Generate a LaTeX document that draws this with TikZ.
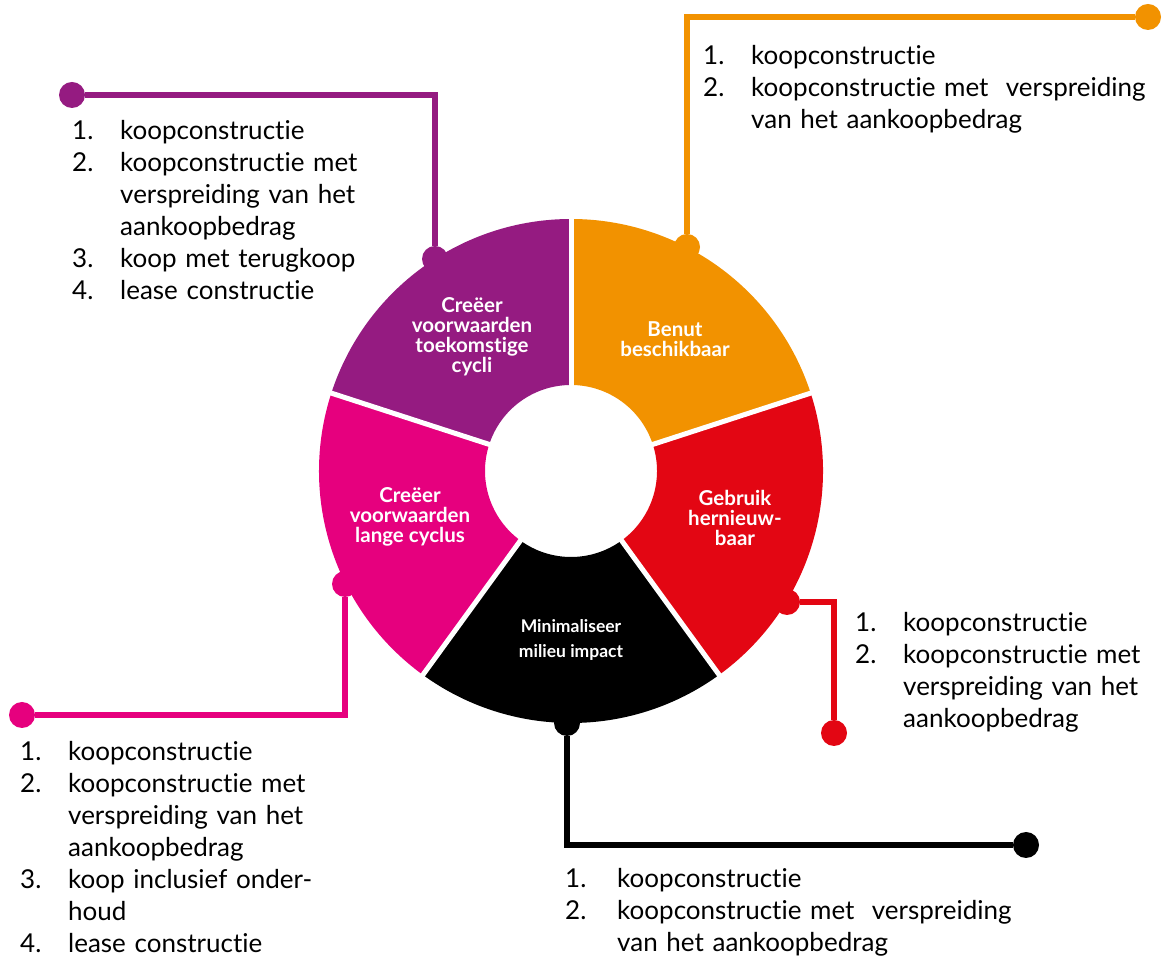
\documentclass[tikz,border=0pt]{standalone}
\usepackage{fontspec}
\setmainfont{Lato}[Ligatures=NoCommon]
\definecolor{cpurple}{RGB}{149,27,129}
\definecolor{corange}{RGB}{242,146,0}
\definecolor{cred}{RGB}{227,6,19}
\definecolor{cmag}{RGB}{230,0,126}
\newcommand\numlab[1]{\makebox[48pt][l]{#1}}
\newcommand\contind{\hspace*{48pt}}
\begin{document}
\begin{tikzpicture}[x=1pt,y=1pt,
  dotnode/.style={circle, minimum size=26pt, inner sep=0pt},
  conn/.style={line width=6.5pt},
  listtext/.style={font=\fontsize{26}{32}\selectfont, text width=700pt, align=left, inner sep=0pt, anchor=base west},
  seglabel/.style={text=white, font=\bfseries\fontsize{20.5}{20}\selectfont, align=center, inner sep=0pt}]
\useasboundingbox (0,0) rectangle (1166,960);
% ring segments
\foreach \a/\c in {18/corange, 90/cpurple, 162/cmag, 234/black, 306/cred}
  \fill[\c] (571,489) ++(\a:252) arc[start angle=\a, delta angle=72, radius=252]
     -- ++({\a+252}:166) arc[start angle={\a+72}, delta angle=-72, radius=86] -- cycle;
\foreach \a in {18,90,162,234,306}
  \draw[white, line width=5pt] (571,489) ++(\a:80) -- ++(\a:180);
% labels
\node[seglabel] (lpurple) at (472,623) {Creëer\\voorwaarden\\toekomstige\\cycli};
\node[seglabel] (lorange) at (675,621) {Benut\\beschikbaar};
\node[seglabel] (lred) at (735,442) {Gebruik\\hernieuw-\\baar};
\node[seglabel] (lmag) at (410,443) {Creëer\\voorwaarden\\lange cyclus};
\node[seglabel, font=\bfseries\fontsize{17.5}{25}\selectfont] (lblack) at (571,320) {Minimaliseer\\milieu impact};
% dots
\node[dotnode, fill=cpurple] (pa) at (435,701) {};
\node[dotnode, fill=cpurple] (pb) at (72,865) {};
\node[dotnode, fill=corange] (oa) at (687,713) {};
\node[dotnode, fill=corange] (ob) at (1148,943) {};
\node[dotnode, fill=cred] (ra) at (787,358) {};
\node[dotnode, fill=cred] (rb) at (834,227) {};
\node[dotnode, fill=black] (ka) at (567,237) {};
\node[dotnode, fill=black] (kb) at (1026,115) {};
\node[dotnode, fill=cmag] (ma) at (345,376) {};
\node[dotnode, fill=cmag] (mb) at (22,245) {};
% connectors
\draw[conn, cpurple] (pa) |- (pb);
\draw[conn, corange] (oa) |- (ob);
\draw[conn, cred] (ra) -| (rb);
\draw[conn, black] (ka) |- (kb);
\draw[conn, cmag] (ma) |- (mb);
% lists
\node[listtext] (plist) at (72,820) {\numlab{1.}koopconstructie\\
\numlab{2.}koopconstructie met\\
\contind verspreiding van het\\
\contind aankoopbedrag\\
\numlab{3.}koop met terugkoop\\
\numlab{4.}lease constructie};
\node[listtext] (olist) at (703,895) {\numlab{1.}koopconstructie\\
\numlab{2.}koopconstructie met\ \ verspreiding\\
\contind van het aankoopbedrag};
\node[listtext] (rlist) at (855,328) {\numlab{1.}koopconstructie\\
\numlab{2.}koopconstructie met\\
\contind verspreiding van het\\
\contind aankoopbedrag};
\node[listtext] (mlist) at (20,199) {\numlab{1.}koopconstructie\\
\numlab{2.}koopconstructie met\\
\contind verspreiding van het\\
\contind aankoopbedrag\\
\numlab{3.}koop inclusief onder-\\
\contind houd\\
\numlab{4.}lease constructie};
\node[listtext] (klist) at (565,72) {\makebox[52pt][l]{1.}koopconstructie\\
\makebox[52pt][l]{2.}koopconstructie met\ \ verspreiding\\
\hspace*{52pt}van het aankoopbedrag};
\end{tikzpicture}
\end{document}
